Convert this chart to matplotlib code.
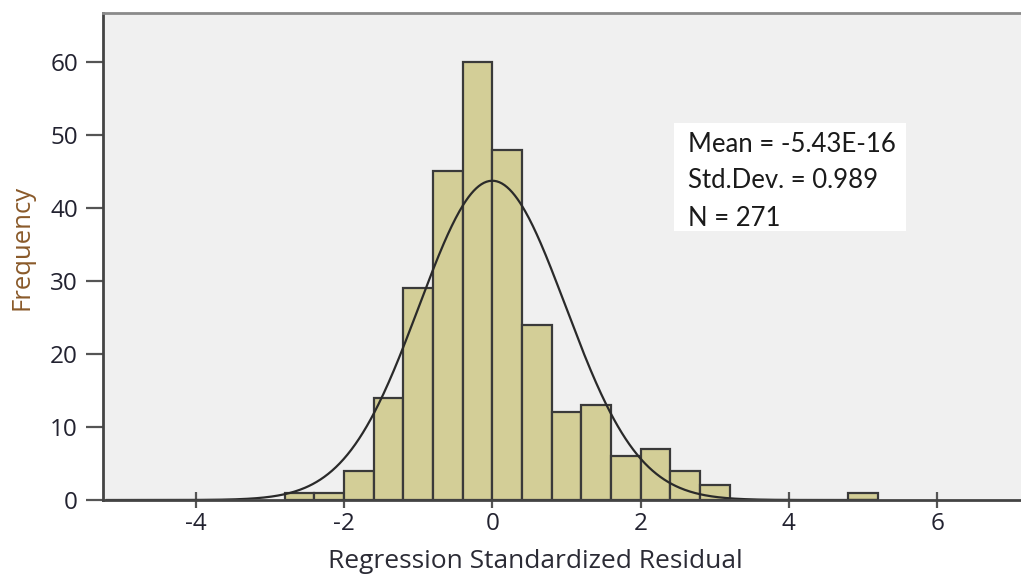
import numpy as np
import matplotlib
matplotlib.use("Agg")
import matplotlib.pyplot as plt
from matplotlib.patches import Rectangle

plt.rcParams["axes.unicode_minus"] = False

# ---- data ----
bin_edges_start = -2.8
bin_width = 0.4
counts = [1, 1, 4, 14, 29, 45, 60, 48, 24, 12, 13, 6, 7, 4, 2, 0, 0, 0, 0, 1]
mean_val = -5.43e-16
std_val = 0.989
n_val = 271
x_ticks = [-4, -2, 0, 2, 4, 6]
y_ticks = [0, 10, 20, 30, 40, 50, 60]
stats_lines = ["Mean = -5.43E-16", "Std.Dev. = 0.989", "N = 271"]
x_label = "Regression Standardized Residual"
y_label = "Frequency"

# ---- figure ----
W, H = 1021, 576
fig = plt.figure(figsize=(W / 100, H / 100), dpi=100)
fig.patch.set_facecolor("white")
ax = fig.add_axes([103 / W, 1 - 500 / H, 1 - 103 / W, (500 - 13) / H])
ax.set_facecolor("#F0F0F0")

edges = bin_edges_start + bin_width * np.arange(len(counts) + 1)
lefts = edges[:-1]
for left, c in zip(lefts, counts):
    if c > 0:
        ax.bar(left, c, width=bin_width, align="edge", color="#D3CE97",
               edgecolor="#3a3a3a", linewidth=1.6, zorder=2)

# normal curve
xs = np.linspace(-5.2, 5.2, 600)
ys = n_val * bin_width / (std_val * np.sqrt(2 * np.pi)) * np.exp(-0.5 * ((xs - mean_val) / std_val) ** 2)
ax.plot(xs, ys, color="#2a2a2a", linewidth=1.6, zorder=3)

ax.set_xlim(-5.25, 7.13)
ax.set_ylim(0, 66.7)
ax.set_xticks(x_ticks)
ax.set_yticks(y_ticks)

font = ["Open Sans", "DejaVu Sans"]
tick_color = "#222230"
for lab in ax.get_xticklabels() + ax.get_yticklabels():
    lab.set_fontfamily(font)
    lab.set_fontsize(17.5)
    lab.set_color(tick_color)

ax.tick_params(axis="y", direction="out", length=12, width=1.6, color="#555555", pad=6)
ax.tick_params(axis="x", direction="inout", length=12, width=1.6, color="#555555", pad=3)

ax.spines["left"].set_color("#444444")
ax.spines["left"].set_linewidth(2)
ax.spines["bottom"].set_color("#444444")
ax.spines["bottom"].set_linewidth(2)
ax.spines["top"].set_color("#8a8a8a")
ax.spines["top"].set_linewidth(2)
ax.spines["right"].set_visible(False)
ax.spines["bottom"].set_zorder(4)

ax.set_xlabel(x_label, fontfamily=font, fontsize=19, color="#2b2b35")
ax.set_ylabel(y_label, fontfamily=font, fontsize=18.5, color="#8a5a2a")
ax.xaxis.label.set_va("center")
ax.yaxis.label.set_va("center")
ax.xaxis.set_label_coords((535 - 103) / 918, -(561 - 500) / 487)
ax.yaxis.set_label_coords((22 - 103) / 918, (500 - 247) / 487)

# stats box
fig.patches.append(Rectangle((674 / W, 1 - 231 / H), (906 - 674) / W, (231 - 123) / H,
                             transform=fig.transFigure, facecolor="white", edgecolor="none",
                             zorder=5))
for i, line in enumerate(stats_lines):
    fig.text(688 / W, 1 - (144 + 37 * i) / H, line, fontfamily="Lato", fontsize=18.5,
             color="#1a1a1a", va="center", ha="left", zorder=6)

fig.savefig("out.png", dpi=100)
